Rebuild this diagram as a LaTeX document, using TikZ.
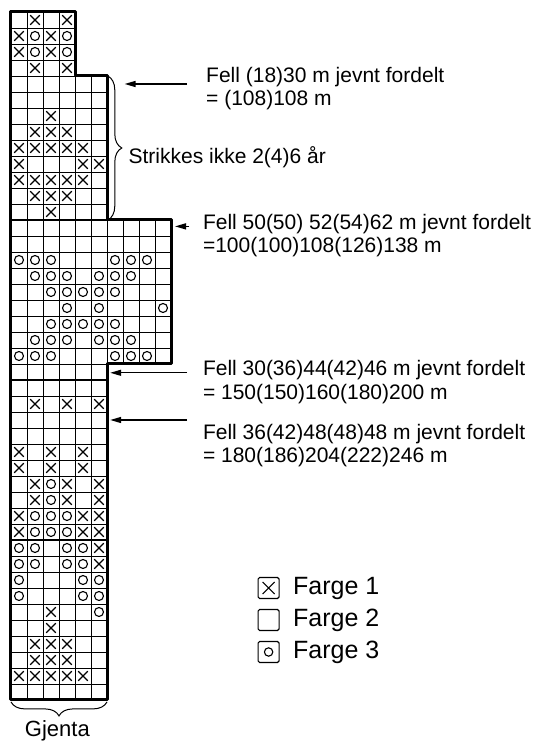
\documentclass[tikz,border=0pt]{standalone}
\usepackage{fontspec}
\setmainfont{Liberation Sans}
\usetikzlibrary{arrows.meta, positioning, calc, decorations.pathreplacing}

\begin{document}
\begin{tikzpicture}[
  x=8pt, y=8pt,
  >={Triangle[length=5.5pt, width=3pt]},
  every node/.style={inner sep=0pt, outer sep=0pt},
  note/.style={anchor=west, align=left, font=\fontsize{10.5}{11.75}\selectfont},
  gridline/.style={line width=0.45pt},
  sizeline/.style={line width=1pt},
  outline/.style={line width=1.5pt, line join=round},
  stitch/.style={line width=0.55pt},
  arrow/.style={->, line width=0.7pt},
  brace/.style={decorate, decoration={brace, amplitude=7pt}, line width=0.5pt},
  legbox/.style={draw, line width=0.55pt, rounded corners=0.8pt, minimum size=10.5pt},
  legtext/.style={font=\fontsize{12.5}{15}\selectfont},
]

% ── Frame ──────────────────────────────────────────────────────────
\useasboundingbox (-0.6875,-3.0625) rectangle (33,43.75);

% ── Chart widths (1 unit = 1 stitch) ───────────────────────────────
\def\cw{6}       % body
\def\cwTop{4}    % top part
\def\cwWide{10}  % wide band

% ── Grid ───────────────────────────────────────────────────────────
\draw[gridline, step=8pt] (0,0)  grid (\cw,21);
\draw[gridline, step=8pt] (0,21) grid (\cwWide,30);
\draw[gridline, step=8pt] (0,30) grid (\cw,39);
\draw[gridline, step=8pt] (0,39) grid (\cwTop,43);
\draw[sizeline] (0,10) -- (\cw,10);
\draw[sizeline] (0,20) -- (\cw,20);
\draw[sizeline] (0,30) -- (\cw,30);

% ── Stitches, row by row from the top (x = farge 1, o = farge 3) ──
\foreach \cells [count=\r] in {
  {n,x,n,x}, {x,o,x,o}, {x,o,x,o}, {n,x,n,x},
  {n}, {n}, {n,n,x}, {n,x,x,x}, {x,x,x,x,x}, {x,n,n,n,x,x},
  {x,x,x,x,x}, {n,x,x,x}, {n,n,x},
  {n}, {n},
  {o,o,o,n,n,n,o,o,o}, {n,o,o,o,n,o,o,o}, {n,n,o,o,o,o,o},
  {n,n,n,o,n,o,n,n,n,o}, {n,n,o,o,o,o,o}, {n,o,o,o,n,o,o,o},
  {o,o,o,n,n,n,o,o,o},
  {n}, {n}, {n,x,n,x,n,x}, {n}, {n}, {x,n,x,n,x}, {x,n,x,n,x},
  {n,x,o,x,n,x}, {n,x,o,x,n,x}, {x,o,o,o,x,x}, {x,o,o,o,x,x},
  {o,o,n,o,o,x}, {o,o,n,o,o,x}, {o,n,n,n,o,o}, {o,n,n,n,o,o},
  {n,n,x,n,n,o}, {n,n,x}, {n,x,x,x}, {n,x,x,x},
  {x,x,x,x,x}, {x,x,x,x,x}
}{
  \pgfmathsetmacro\yc{43.5-\r}
  \foreach \s [count=\c] in \cells {
    \if x\s
      \draw[stitch] (\c-0.8,\yc-0.3) -- (\c-0.2,\yc+0.3)
                    (\c-0.8,\yc+0.3) -- (\c-0.2,\yc-0.3);
    \fi
    \if o\s
      \draw[stitch] (\c-0.5,\yc) circle[radius=2.25pt];
    \fi
  }
}

% ── Outline ────────────────────────────────────────────────────────
\draw[outline] (0,0) -- (0,43) -- (\cwTop,43) -- (\cwTop,39) -- (\cw,39)
  -- (\cw,30) -- (\cwWide,30) -- (\cwWide,21) -- (\cw,21) -- (\cw,0) -- cycle;

% ── Braces ─────────────────────────────────────────────────────────
\draw[brace] (\cw+0.05,39) -- (\cw+0.05,30);
\node[note] (skip) at (7.35,33.94) {Strikkes ikke 2(4)6 år};

\draw[brace] (\cw,-0.12) -- (0,-0.12);
\node[font=\fontsize{11}{13}\selectfont, anchor=base] (repeat) at (2.9,-2.31) {Gjenta};

% ── Decrease notes ─────────────────────────────────────────────────
\node[note] (fell1) at (12.2,38.22)  {Fell (18)30 m jevnt fordelt\\= (108)108 m};
\node[note] (fell2) at (12.0,29.03)  {Fell 50(50) 52(54)62 m jevnt fordelt\\=100(100)108(126)138 m};
\node[note] (fell3) at (12.0,19.875) {Fell 30(36)44(42)46 m jevnt fordelt\\= 150(150)160(180)200 m};
\node[note] (fell4) at (12.0,15.9)   {Fell 36(42)48(48)48 m jevnt fordelt\\= 180(186)204(222)246 m};

\coordinate (cut1) at (7.1,38.5);
\coordinate (cut2) at (10.25,29.6);
\coordinate (cut3) at (6.2,20.45);
\coordinate (cut4) at (6.2,17.5);

\draw[arrow] ($(fell1.west |- cut1)+(-1.2,0)$)  -- (cut1);
\draw[arrow] ($(fell2.west |- cut2)+(-0.85,0)$) -- (cut2);
\draw[arrow] ($(fell3.west |- cut3)+(-1,0)$)    -- (cut3);
\draw[arrow] ($(fell4.west |- cut4)+(-1,0)$)    -- (cut4);

% ── Legend ─────────────────────────────────────────────────────────
\node[legbox] (key1) at (16.1,7) {};
\node[legbox] (key2) at (16.1,5) {};
\node[legbox] (key3) at (16.1,3) {};
\draw[stitch] ([shift={(-3pt,-3pt)}]key1.center) -- ([shift={(3pt,3pt)}]key1.center)
              ([shift={(-3pt,3pt)}]key1.center) -- ([shift={(3pt,-3pt)}]key1.center);
\draw[stitch] (key3.center) circle[radius=2.1pt];

\node[legtext, right=7pt of key1] (farge1) {Farge 1};
\node[legtext, right=7pt of key2] (farge2) {Farge 2};
\node[legtext, right=7pt of key3] (farge3) {Farge 3};

\end{tikzpicture}
\end{document}
